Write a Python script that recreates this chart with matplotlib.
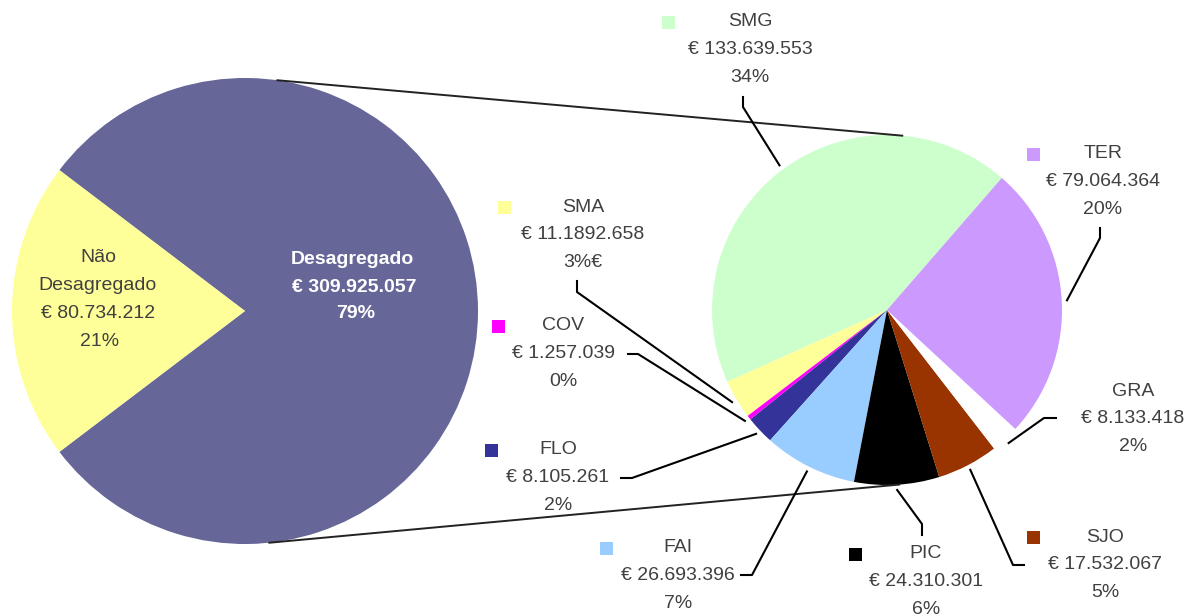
import numpy as np
import matplotlib.pyplot as plt
from matplotlib.patches import Rectangle

plt.rcParams['font.family'] = ['Liberation Sans', 'DejaVu Sans']

W, H = 1187, 614

# main pie
main_labels = ['Desagregado', 'Não\nDesagregado']
main_values = [309925057, 80734212]
main_value_text = ['€ 309.925.057', '€ 80.734.212']
main_pct = ['79%', '21%']
main_colors = ['#666699', '#FFFF99']

# breakdown of "Desagregado"
sub_labels = ['SMG', 'SMA', 'COV', 'FLO', 'FAI', 'PIC', 'SJO', 'GRA', 'TER']
sub_values = [133639553, 11189658, 1257039, 8105261, 26693396, 24310301, 17532067, 8133418, 79064364]
sub_value_text = ['€ 133.639.553', '€ 11.1892.658', '€ 1.257.039', '€ 8.105.261',
                  '€ 26.693.396', '€ 24.310.301', '€ 17.532.067', '€ 8.133.418', '€ 79.064.364']
sub_pct = ['34%', '3%€', '0%', '2%', '7%', '6%', '5%', '2%', '20%']
sub_colors = ['#CCFFCC', '#FFFF99', '#FF00FF', '#333399', '#99CCFF', '#000000', '#993300', '#FFFFFF', '#CC99FF']

# layout (pixels, y measured from top)
c1, r1 = (245, 311), 233
c2, r2 = (887, 310), 175
txt_col = '#404040'
# label center x, first line y, square x, leader elbow points
lab_pos = {
    'SMG': (750, 22, 668, [(743, 97), (743, 107)]),
    'SMA': (583, 207, 504, [(577, 281), (577, 292)]),
    'COV': (563, 326, 498, [(628, 354), (638, 354)]),
    'FLO': (558, 450, 491, [(621, 478), (632, 478)]),
    'FAI': (678, 548, 606, [(741, 575), (752, 575)]),
    'PIC': (926, 554, 855, [(922, 535), (922, 524)]),
    'SJO': (1105, 537, 1033, [(1024, 565), (1013, 565)]),
    'GRA': (1133, 391, 1063, [(1056, 418), (1044, 418)]),
    'TER': (1103, 154, 1033, [(1100, 228), (1100, 238)]),
}


def py(y):
    return H - y


fig = plt.figure(figsize=(W / 100, H / 100), dpi=100)
ax = fig.add_axes([0, 0, 1, 1])

tot = sum(main_values)
start1 = 180 - 360 * (main_values[0] + main_values[1] / 2) / tot
ax.pie(main_values, colors=main_colors, startangle=start1, radius=r1,
       center=(c1[0], py(c1[1])), wedgeprops=dict(linewidth=0))
w2, _ = ax.pie(sub_values, colors=sub_colors, startangle=49, radius=r2,
               center=(c2[0], py(c2[1])), wedgeprops=dict(linewidth=0))

ax.set_xlim(0, W)
ax.set_ylim(0, H)
ax.axis('off')

# connector lines between the two pies
for a1, a2 in [(82, 85), (-84, -86)]:
    x1 = c1[0] + r1 * np.cos(np.radians(a1))
    y1 = py(c1[1]) + r1 * np.sin(np.radians(a1))
    x2 = c2[0] + r2 * np.cos(np.radians(a2))
    y2 = py(c2[1]) + r2 * np.sin(np.radians(a2))
    ax.plot([x1, x2], [y1, y2], color='#222222', lw=1.4, zorder=1)

# main pie labels
ax.text(98, py(258), 'Não', ha='center', va='center', fontsize=14, color=txt_col)
ax.text(98, py(285), 'Desagregado', ha='center', va='center', fontsize=14, color=txt_col)
ax.text(98, py(313), main_value_text[1], ha='center', va='center', fontsize=14, color=txt_col)
ax.text(100, py(341), main_pct[1], ha='center', va='center', fontsize=14, color=txt_col)
ax.text(352, py(259), main_labels[0], ha='center', va='center', fontsize=14,
        color='white', fontweight='bold')
ax.text(354, py(287), main_value_text[0], ha='center', va='center', fontsize=14,
        color='white', fontweight='bold')
ax.text(356, py(314), main_pct[0], ha='center', va='center', fontsize=14,
        color='white', fontweight='bold')

# sub pie labels with leader lines
for i, name in enumerate(sub_labels):
    tx, ty, sx, elbow = lab_pos[name]
    for j, s in enumerate([name, sub_value_text[i], sub_pct[i]]):
        ax.text(tx, py(ty + 27.8 * j), s, ha='center', va='center',
                fontsize=14, color=txt_col, zorder=5)
    ax.add_patch(Rectangle((sx - 6.5, py(ty) - 6.5), 13, 13,
                           facecolor=sub_colors[i], edgecolor='none', zorder=5))
    w = w2[i]
    mid = np.radians((w.theta1 + w.theta2) / 2)
    ex = c2[0] + 1.03 * r2 * np.cos(mid)
    ey = py(c2[1]) + 1.03 * r2 * np.sin(mid)
    xs = [p[0] for p in elbow] + [ex]
    ys = [py(p[1]) for p in elbow] + [ey]
    ax.plot(xs, ys, color='black', lw=1.5, zorder=4)

fig.savefig('out.png', dpi=100)
